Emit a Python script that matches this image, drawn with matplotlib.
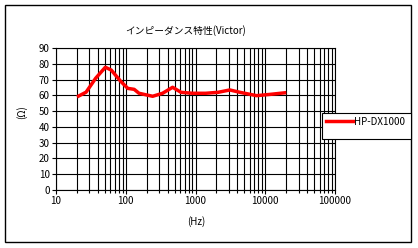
import numpy as np
import matplotlib
matplotlib.use("Agg")
import matplotlib.pyplot as plt
from matplotlib.patches import Rectangle
from matplotlib.lines import Line2D

plt.rcParams['font.family'] = ['Noto Sans CJK JP', 'DejaVu Sans']

# values
freq = [20, 27, 37, 51, 62, 85, 107, 132, 155, 243, 337, 470, 620, 910,
        1400, 2100, 3100, 4350, 7500, 11700, 20000]
impedance = [59, 62, 70.8, 77.8, 76, 68.8, 64.4, 63.8, 61.3, 59.4, 61.3, 65.1,
             61.9, 61.3, 61.3, 61.9, 63.4, 61.9, 59.8, 60.6, 61.7]
y_ticks = list(range(0, 100, 10))
x_ticks = [10, 100, 1000, 10000, 100000]
x_labels = ['10', '100', '1000', '10000', '100000']
series_name = 'HP-DX1000'

W, H = 418, 248
fig = plt.figure(figsize=(W / 100, H / 100), dpi=100)
fig.patch.set_facecolor('white')

def fx(px):
    return px / W

def fy(py):
    return 1 - py / H

# outer chart frame
fig.patches.append(Rectangle((fx(5), fy(242)), 406 / W, 237 / H, transform=fig.transFigure,
                             fill=False, edgecolor='black', linewidth=1.0))

ax = fig.add_axes([fx(56), fy(190), 279 / W, 142 / H])
ax.plot(freq, impedance, color='#ff0000', linewidth=2.5, solid_capstyle='butt',
        solid_joinstyle='round', zorder=3)

ax.set_xscale('log')
ax.set_xlim(10, 100000)
ax.set_ylim(0, 90)
ax.set_xticks(x_ticks)
ax.set_xticklabels(x_labels)
ax.set_yticks(y_ticks)
ax.xaxis.set_minor_locator(matplotlib.ticker.LogLocator(base=10, subs=np.arange(2, 10)))
ax.xaxis.set_minor_formatter(matplotlib.ticker.NullFormatter())

ax.grid(True, which='major', color='black', linewidth=0.8)
ax.grid(True, which='minor', axis='x', color='black', linewidth=0.8)
ax.tick_params(axis='both', which='major', direction='out', length=3, width=0.8,
               labelsize=7, pad=1.5, colors='black')
ax.tick_params(axis='x', which='minor', direction='out', length=2, width=0.8)
for s in ax.spines.values():
    s.set_linewidth(0.8)
    s.set_color('black')

fig.text(fx(186), fy(31), 'インピーダンス特性(Victor)', ha='center', va='center', fontsize=7)
fig.text(fx(196), fy(222), '(Hz)', ha='center', va='center', fontsize=7)
fig.text(fx(22), fy(112), '(Ω)', ha='center', va='center', fontsize=7, rotation=90)

# legend box drawn by hand to match the reference's proportions
fig.patches.append(Rectangle((fx(322), fy(139)), 89 / W, 26 / H, transform=fig.transFigure,
                             facecolor='white', edgecolor='black', linewidth=0.8, zorder=5))
fig.lines.append(Line2D([fx(326), fx(353)], [fy(121), fy(121)], transform=fig.transFigure,
                        color='#ff0000', linewidth=2.5, zorder=6))
fig.text(fx(354), fy(122), series_name, ha='left', va='center', fontsize=7, zorder=6)

fig.savefig('out.png', dpi=100, facecolor='white')
